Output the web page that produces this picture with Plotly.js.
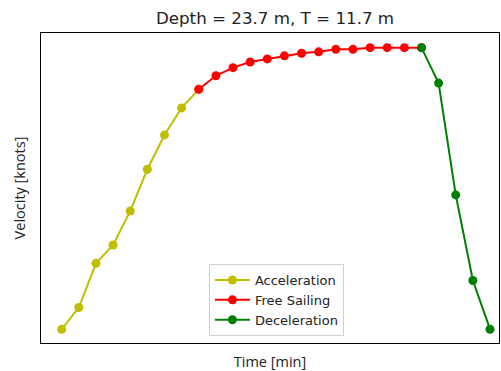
<!DOCTYPE html>
<html>
<head>
<meta charset="utf-8">
<script src="https://cdn.plot.ly/plotly-3.0.1.min.js"></script>
<style>html,body{margin:0;padding:0;background:#fff;}#chart{width:501px;height:371px;}</style>
</head>
<body>
<div id="chart"></div>
<script>
// Time steps (minutes) and velocities (knots) per phase
const accelTime = [0, 1, 2, 3, 4, 5, 6, 7, 8];
const accelVel  = [0, 0.77, 2.34, 2.99, 4.20, 5.68, 6.90, 7.86, 8.52];
const freeTime  = [8, 9, 10, 11, 12, 13, 14, 15, 16, 17, 18, 19, 20, 21];
const freeVel   = [8.52, 9.00, 9.29, 9.49, 9.60, 9.71, 9.80, 9.85, 9.94, 9.94, 10.0, 10.0, 10.0, 10.0];
const decelTime = [21, 22, 23, 24, 25];
const decelVel  = [10.0, 8.74, 4.77, 1.73, 0];
const seriesNames = ["Acceleration", "Free Sailing", "Deceleration"];
const titleText = "Depth = 23.7 m, T = 11.7 m";
const xLabel = "Time [min]";
const yLabel = "Velocity [knots]";

const colors = ["#bfbf00", "#ff0000", "#008000"];
const font = "DejaVu Sans, sans-serif";
const labelFont = "Open Sans, sans-serif";

function tr(x, y, i) {
  return {
    x: x, y: y, name: seriesNames[i], type: "scatter", mode: "lines+markers",
    line: {color: colors[i], width: 2},
    marker: {color: colors[i], size: 9}
  };
}

const data = [tr(accelTime, accelVel, 0), tr(freeTime, freeVel, 1), tr(decelTime, decelVel, 2)];

const axisBase = {
  showgrid: false, zeroline: false, showticklabels: false, ticks: "",
  showline: true, mirror: true, linecolor: "#000", linewidth: 1
};

const layout = {
  width: 501, height: 371,
  margin: {l: 41, r: 2, t: 33, b: 28, pad: 0},
  paper_bgcolor: "#fff", plot_bgcolor: "#fff",
  font: {family: font, color: "#222", size: 13},
  title: {text: titleText, font: {size: 16.7, family: font, color: "#222"},
          x: 275 / 501, xanchor: "center", xref: "container", y: 1 - 18.5 / 371, yanchor: "middle", yref: "container"},
  xaxis: Object.assign({}, axisBase, {range: [-1.208, 25.525],
          title: {text: xLabel, font: {size: 14.5, family: labelFont, color: "#222"}, standoff: 14}}),
  yaxis: Object.assign({}, axisBase, {range: [-0.49, 10.52],
          title: {text: yLabel, font: {size: 14.5, family: labelFont, color: "#222"}, standoff: 10}}),
  showlegend: true,
  legend: {x: 0.514, xanchor: "center", y: 0.0226, yanchor: "bottom",
           bgcolor: "rgba(255,255,255,0.8)", bordercolor: "#d0d0d0", borderwidth: 1,
           itemwidth: 35,
           font: {size: 13, family: font, color: "#222"}}
};

Plotly.newPlot("chart", data, layout, {staticPlot: true, displayModeBar: false});
</script>
</body>
</html>
